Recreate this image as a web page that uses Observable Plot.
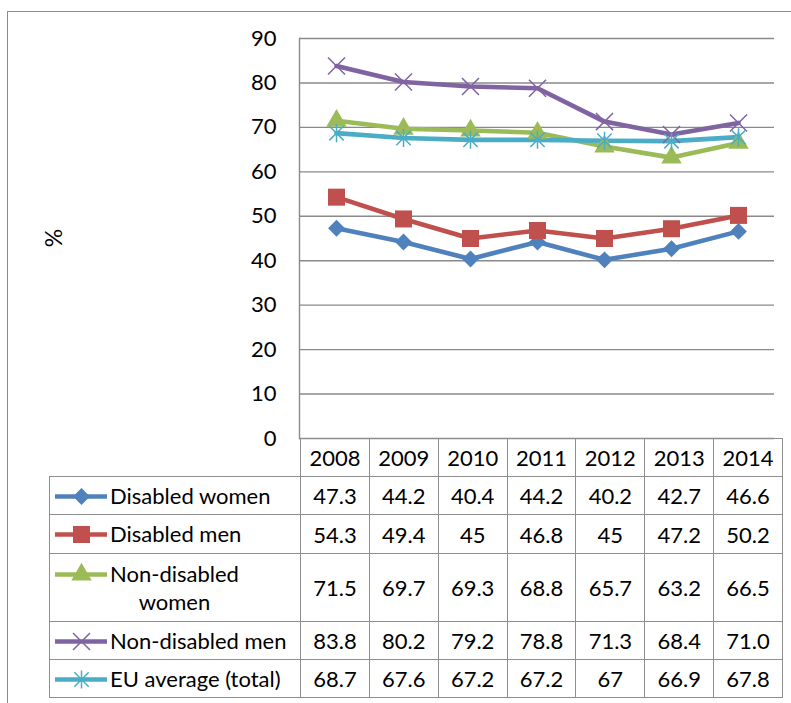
<!DOCTYPE html>
<html>
<head>
<meta charset="utf-8">
<script src="https://cdn.jsdelivr.net/npm/d3@7"></script>
<script src="https://cdn.jsdelivr.net/npm/@observablehq/plot@0.6"></script>
<style>
  html, body { margin: 0; padding: 0; background: #fff; }
  body { font-family: Lato, "Open Sans", sans-serif; color: #000; }
  #wrap { position: relative; width: 791px; height: 703px; overflow: hidden; background: #fff; }
  #outer { position: absolute; left: 7px; top: 11px; width: 820px; height: 720px;
           border-left: 1.5px solid #8c8c8c; border-top: 1.5px solid #8c8c8c; }
  #chart { position: absolute; left: 0; top: 0; }
  #ylab { position: absolute; left: 53px; top: 238px; font-size: 23px; white-space: nowrap;
          transform: translate(-50%, -50%) rotate(-90deg); }
  table { position: absolute; left: 49px; top: 438px; border-collapse: collapse;
          font-size: 22px; font-family: Lato, sans-serif; table-layout: fixed; }
  td { border: 1.5px solid #8e8e8e; text-align: center; vertical-align: middle; padding: 0;
       width: 67.86px; white-space: nowrap; }
  td.blank { border: none; width: 250px; }
  td.leg { width: 250px; text-align: left; }
  .legbox { display: flex; align-items: flex-start; }
  .legbox .sw { margin-left: 5px; margin-right: 3px; margin-top: 2px; display: flex; }
  .legbox .lbl { display: inline-block; line-height: 28px; }
  .legbox .lbl.wrap { text-align: center; }
</style>
</head>
<body>
<div id="wrap">
  <div id="outer"></div>
  <div id="chart"></div>
  <div id="ylab">%</div>
</div>
<script>
// ---- data ----
const years = ["2008", "2009", "2010", "2011", "2012", "2013", "2014"];
const yTicks = [0, 10, 20, 30, 40, 50, 60, 70, 80, 90];
const seriesNames = ["Disabled women", "Disabled men", "Non-disabled women", "Non-disabled men", "EU average (total)"];
const disabledWomen    = [47.3, 44.2, 40.4, 44.2, 40.2, 42.7, 46.6];
const disabledMen      = [54.3, 49.4, 45, 46.8, 45, 47.2, 50.2];
const nonDisabledWomen = [71.5, 69.7, 69.3, 68.8, 65.7, 63.2, 66.5];
const nonDisabledMen   = [83.8, 80.2, 79.2, 78.8, 71.3, 68.4, 71.0];
const euAverage        = [68.7, 67.6, 67.2, 67.2, 67, 66.9, 67.8];
const oneDecimal       = [false, false, false, true, false]; // "71.0" shown with decimal

const seriesValues = [disabledWomen, disabledMen, nonDisabledWomen, nonDisabledMen, euAverage];
const colors = ["#4F81BD", "#C0504D", "#9BBB59", "#8064A2", "#4BACC6"];

// custom Excel-like star: X with a vertical bar
const excelStar = {
  draw(ctx, size) {
    const r = Math.sqrt(size / Math.PI);
    const s = r * 0.8;
    ctx.moveTo(-s, -s); ctx.lineTo(s, s);
    ctx.moveTo(-s, s); ctx.lineTo(s, -s);
    ctx.moveTo(0, -r); ctx.lineTo(0, r);
  }
};
const symbolSpecs = [
  {symbol: "diamond2", r: 7.6, filled: true},
  {symbol: "square", r: 9.6, filled: true},
  {symbol: "triangle", r: 7.6, filled: true},
  {symbol: "times", r: 7.8, filled: false},
  {symbol: excelStar, r: 9, filled: false}
];

const rows = [];
seriesNames.forEach((name, i) => {
  years.forEach((yr, j) => rows.push({series: name, si: i, year: yr, value: seriesValues[i][j]}));
});

function dotOpts(i) {
  const sp = symbolSpecs[i];
  return sp.filled
    ? {symbol: sp.symbol, r: sp.r, fill: colors[i], stroke: "none"}
    : {symbol: sp.symbol, r: sp.r, fill: "none", stroke: colors[i], strokeWidth: 1.5};
}

const marks = [
  Plot.ruleY(yTicks, {stroke: "#8a8a8a", strokeWidth: 1.4}),
  Plot.frame({anchor: "left", stroke: "#8a8a8a", strokeWidth: 1.4}),
  Plot.axisY(yTicks, {tickSize: 0, tickPadding: 23, fontSize: 22, label: null}),
];
seriesNames.forEach((name, i) => {
  const d = rows.filter(r => r.si === i);
  marks.push(Plot.line(d, {x: "year", y: "value", stroke: colors[i], strokeWidth: 4.6, strokeLinejoin: "round"}));
});
seriesNames.forEach((name, i) => {
  const d = rows.filter(r => r.si === i);
  marks.push(Plot.dot(d, {x: "year", y: "value", ...dotOpts(i)}));
});

const chart = Plot.plot({
  width: 791,
  height: 440,
  marginTop: 38,
  marginBottom: 2,
  marginLeft: 299,
  marginRight: 17,
  style: {fontFamily: "Lato, sans-serif", fontSize: "22px", color: "#000", background: "transparent", overflow: "visible"},
  x: {type: "point", domain: years, padding: 0.5, axis: null},
  y: {domain: [0, 90], axis: null, label: null},
  marks
});
document.getElementById("chart").appendChild(chart);

// ---- data table with legend keys ----
const table = d3.select("#wrap").append("table");
const header = table.append("tr").style("height", "38px");
header.append("td").attr("class", "blank");
years.forEach(y => header.append("td").text(y));

const rowHeights = [38, 39, 68, 38, 38];
seriesNames.forEach((name, i) => {
  const tr = table.append("tr").style("height", rowHeights[i] + "px");
  const leg = tr.append("td").attr("class", "leg");
  const box = leg.append("div").attr("class", "legbox");
  const sw = Plot.plot({
    width: 52, height: 24, margin: 0,
    x: {domain: [-1, 1], axis: null},
    y: {domain: [-1, 1], axis: null},
    style: {background: "transparent", overflow: "visible"},
    marks: [
      Plot.ruleY([0], {stroke: colors[i], strokeWidth: 4.6}),
      Plot.dot([0], {x: d => d, y: d => d, ...dotOpts(i)})
    ]
  });
  box.append("span").attr("class", "sw").node().appendChild(sw);
  const parts = name === "Non-disabled women" ? ["Non-disabled", "women"] : [name];
  const lbl = box.append("span").attr("class", "lbl" + (parts.length > 1 ? " wrap" : ""));
  parts.forEach((p, k) => { if (k) lbl.append("br"); lbl.append("span").text(p); });
  seriesValues[i].forEach(v => tr.append("td").text(oneDecimal[i] ? v.toFixed(1) : String(v)));
});
</script>
</body>
</html>
